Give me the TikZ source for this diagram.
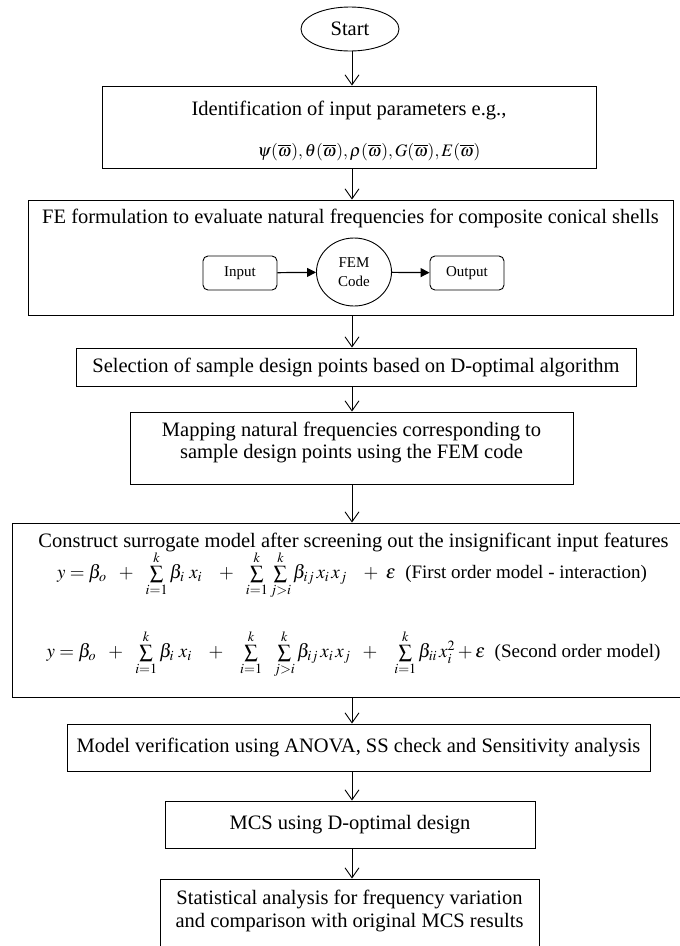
\documentclass[tikz,border=0pt]{standalone}
\usepackage{mathptmx}
\usepackage{fontspec}
\setmainfont{Liberation Serif}
\usetikzlibrary{arrows.meta,shapes.geometric}
\begin{document}
\begin{tikzpicture}[x=1pt,y=-1pt,
  box/.style={draw, line width=0.9pt, inner sep=0pt},
  lbl/.style={inner sep=0pt, font=\fontsize{20.5}{23}\selectfont, align=center},
  small/.style={inner sep=0pt, font=\fontsize{15}{19}\selectfont, align=center},
  eqn/.style={inner sep=0pt, font=\fontsize{19}{22}\selectfont},
  flow/.style={line width=0.9pt, -{Straight Barb[length=10pt,width=14pt,line width=0.9pt]}},
  innerarrow/.style={line width=1.2pt, -{Triangle[length=9pt,width=9pt]}},
]
\useasboundingbox (0,0) rectangle (680,946);
\fill[white] (0,0) rectangle (680,946);
\coordinate (col) at (352,0);

% Start
\node[box, ellipse, minimum width=98pt, minimum height=44pt, lbl] (start) at (350,29) {Start};

% Identification
\node[box, minimum width=494pt, minimum height=82pt] (ident) at (349,127) {};
\node[lbl] (identA) at (349,110) {Identification of input parameters e.g.,};
\node[lbl, font=\fontsize{17.5}{20}\selectfont] (identB) at (369,152) {$\psi(\overline{\omega}){,}\mskip2mu\theta(\overline{\omega}){,}\mskip2mu\rho(\overline{\omega}){,}\mskip2mu G(\overline{\omega}){,}\mskip2mu E(\overline{\omega})$};

% FE formulation
\node[box, minimum width=645pt, minimum height=115pt] (fe) at (350.5,257.5) {};
\node[lbl] (feT) at (350.5,218) {FE formulation to evaluate natural frequencies for composite conical shells};
\node[box, rounded corners=5pt, minimum width=74pt, minimum height=34pt, small] (inp) at (240,273) {Input};
\node[box, ellipse, minimum width=75pt, minimum height=68pt, small] (fem) at (354,272) {FEM\\Code};
\node[box, rounded corners=5pt, minimum width=74pt, minimum height=34pt, small] (outp) at (467,273) {Output};
\draw[innerarrow] (inp) -- (fem);
\draw[innerarrow] (fem) -- (outp);

% Selection
\node[box, minimum width=560pt, minimum height=38pt, lbl] (sel) at (356,367) {Selection of sample design points based on D-optimal algorithm};

% Mapping
\node[box, minimum width=443pt, minimum height=72pt] (map) at (351.5,448) {};
\node[lbl, font=\fontsize{20.5}{22}\selectfont] (mapT) at (351.5,442) {Mapping natural frequencies corresponding to\\sample design points using the FEM code};

% Construct
\node[box, minimum width=683pt, minimum height=174pt] (cons) at (353.5,610) {};
\node[lbl] (consT) at (353.5,542) {Construct surrogate model after screening out the insignificant input features};
\node[eqn] (eqA) at (352,575) {$y = \beta_o \ \ +\ \ \sum\limits_{i=1}^{k}\beta_i\ x_i\ \ \ +\ \ \sum\limits_{i=1}^{k}\sum\limits_{j>i}^{k}\beta_{ij}\,x_i\,x_j\ \ \ +\ \varepsilon$\ \ (First order model - interaction)};
\node[eqn] (eqB) at (353.5,654) {$y = \beta_o\ \ +\ \ \sum\limits_{i=1}^{k}\beta_i\ x_i\ \ \ +\ \ \ \sum\limits_{i=1}^{k}\ \ \sum\limits_{j>i}^{k}\beta_{ij}\,x_i\,x_j\ \ +\ \ \ \sum\limits_{i=1}^{k}\beta_{ii}\,x_i^2 + \varepsilon$\ \ (Second order model)};

% Model verification
\node[box, minimum width=583pt, minimum height=47pt, lbl] (model) at (358.5,747.5) {Model verification using ANOVA, SS check and Sensitivity analysis};

% MCS
\node[box, minimum width=370pt, minimum height=47pt, lbl] (mcs) at (350,824.5) {MCS using D-optimal design};

% Statistical
\node[box, minimum width=379pt, minimum height=86pt] (stat) at (349.5,922) {};
\node[lbl] (statT) at (349.5,910.5) {Statistical analysis for frequency variation\\and comparison with original MCS results};

% flow arrows
\draw[flow] (start.south -| col) -- (col |- ident.north);
\draw[flow] (ident.south -| col) -- (col |- fe.north);
\draw[flow] (fe.south -| col) -- (col |- sel.north);
\draw[flow] (sel.south -| col) -- (col |- map.north);
\draw[flow] (map.south -| col) -- (col |- cons.north);
\draw[flow] (cons.south -| col) -- (col |- model.north);
\draw[flow] (model.south -| col) -- (col |- mcs.north);
\draw[flow] (mcs.south -| col) -- (col |- stat.north);
\end{tikzpicture}
\end{document}
